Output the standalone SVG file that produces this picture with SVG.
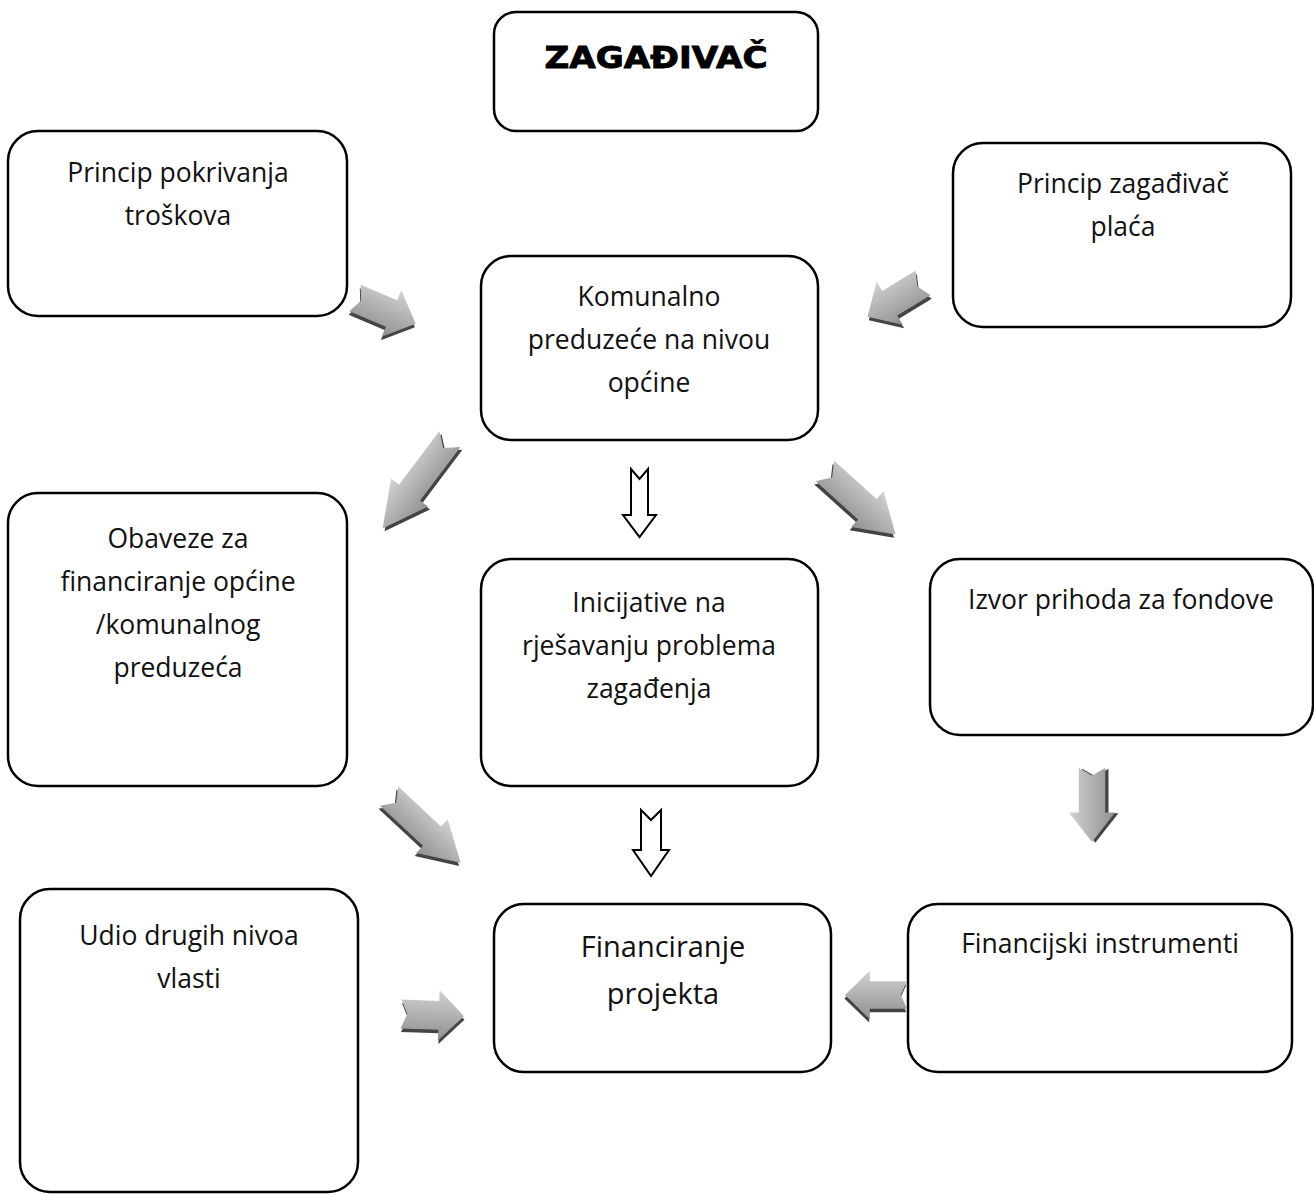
<svg xmlns="http://www.w3.org/2000/svg" xmlns:xlink="http://www.w3.org/1999/xlink" width="1314" height="1194" viewBox="0 0 1314 1194">
<style>
.box{fill:#fff;stroke:#000;stroke-width:2.5}
.t{font-family:"Open Sans","Noto Sans",sans-serif;font-size:26.5px;fill:#111;text-anchor:middle}
.tb{font-family:"Open Sans","Noto Sans",sans-serif;font-size:29px;fill:#111;text-anchor:middle}
.title{font-family:"DejaVu Sans","Liberation Sans",sans-serif;font-weight:bold;font-size:31px;fill:#000;stroke:#000;stroke-width:0.9;text-anchor:middle}
.sh{fill:#444}
.ar{fill:url(#gr)}
.hol{fill:#fff;stroke:#000;stroke-width:2}
</style>
<defs>
<linearGradient id="gr" x1="0" y1="0" x2="0" y2="1">
<stop offset="0" stop-color="#d2d2d2"/>
<stop offset="0.6" stop-color="#aaaaaa"/>
<stop offset="1" stop-color="#909090"/>
</linearGradient>
<path id="arr" d="M0,-12 L60,-12 L60,-21 L100,0 L60,21 L60,12 L0,12 L10,0 Z"/>
</defs>
<rect width="1314" height="1194" fill="#fff"/>

<g id="n-zagadivac"><rect class="box" x="494" y="12" width="324" height="119" rx="22"/><text class="title" x="656" y="68" textLength="223" lengthAdjust="spacingAndGlyphs">ZAGAĐIVAČ</text></g>
<g id="n-pokrivanje"><rect class="box" x="8" y="131" width="339" height="185" rx="30"/><text class="t" x="178" y="182">Princip pokrivanja</text><text class="t" x="178" y="225">troškova</text></g>
<g id="n-zagadivac-placa"><rect class="box" x="953" y="143" width="338" height="184" rx="30"/><text class="t" x="1123" y="193">Princip zagađivač</text><text class="t" x="1123" y="236">plaća</text></g>
<g id="n-komunalno"><rect class="box" x="481" y="256" width="337" height="184" rx="30"/><text class="t" x="649" y="306">Komunalno</text><text class="t" x="649" y="349">preduzeće na nivou</text><text class="t" x="649" y="392">općine</text></g>
<g id="n-obaveze"><rect class="box" x="8" y="493" width="339" height="293" rx="30"/><text class="t" x="178" y="548">Obaveze za</text><text class="t" x="178" y="591">financiranje općine</text><text class="t" x="178" y="634">/komunalnog</text><text class="t" x="178" y="677">preduzeća</text></g>
<g id="n-inicijative"><rect class="box" x="481" y="559" width="337" height="227" rx="30"/><text class="t" x="649" y="612">Inicijative na</text><text class="t" x="649" y="655">rješavanju problema</text><text class="t" x="649" y="698">zagađenja</text></g>
<g id="n-izvor"><rect class="box" x="930" y="559" width="383" height="176" rx="30"/><text class="t" x="1121" y="609">Izvor prihoda za fondove</text></g>
<g id="n-udio"><rect class="box" x="20" y="889" width="338" height="303" rx="30"/><text class="t" x="189" y="945">Udio drugih nivoa</text><text class="t" x="189" y="988">vlasti</text></g>
<g id="n-financiranje"><rect class="box" x="494" y="904" width="337" height="168" rx="30"/><text class="tb" x="663" y="957">Financiranje</text><text class="tb" x="663" y="1004">projekta</text></g>
<g id="n-instrumenti"><rect class="box" x="908" y="904" width="384" height="168" rx="30"/><text class="t" x="1100" y="953">Financijski instrumenti</text></g>

<g id="connectors">
<g transform="translate(355,298) rotate(23) scale(0.66,1.2)"><use xlink:href="#arr" class="sh" transform="translate(1,3)"/><use xlink:href="#arr" class="ar"/></g>
<g transform="translate(923,283) rotate(148.6) scale(0.65,-1.2)"><use xlink:href="#arr" class="sh" transform="translate(1,3)"/><use xlink:href="#arr" class="ar"/></g>
<g transform="translate(450,439) rotate(127) scale(1.12,-1.1)"><use xlink:href="#arr" class="sh" transform="translate(1,3)"/><use xlink:href="#arr" class="ar"/></g>
<g transform="translate(825,471) rotate(42) scale(0.95,1.15)"><use xlink:href="#arr" class="sh" transform="translate(1,3)"/><use xlink:href="#arr" class="ar"/></g>
<g transform="translate(389,796) rotate(43) scale(0.98,1.1)"><use xlink:href="#arr" class="sh" transform="translate(1,3)"/><use xlink:href="#arr" class="ar"/></g>
<g transform="translate(1092,768) rotate(90) scale(0.74,-1.1)"><use xlink:href="#arr" class="sh" transform="translate(1,3)"/><use xlink:href="#arr" class="ar"/></g>
<g transform="translate(401,1014) rotate(2) scale(0.63,1.2)"><use xlink:href="#arr" class="sh" transform="translate(1,3)"/><use xlink:href="#arr" class="ar"/></g>
<g transform="translate(907,995) rotate(180) scale(0.62,-1.15)"><use xlink:href="#arr" class="sh" transform="translate(1,3)"/><use xlink:href="#arr" class="ar"/></g>
<path class="hol" d="M631,469 L639.5,479 L648,469 L648,515 L656,515 L639.5,537 L623,515 L631,515 Z"/>
<path class="hol" d="M641,810 L651,820 L661,810 L661,850 L669,850 L651,876 L633,850 L641,850 Z"/>
</g>
</svg>
